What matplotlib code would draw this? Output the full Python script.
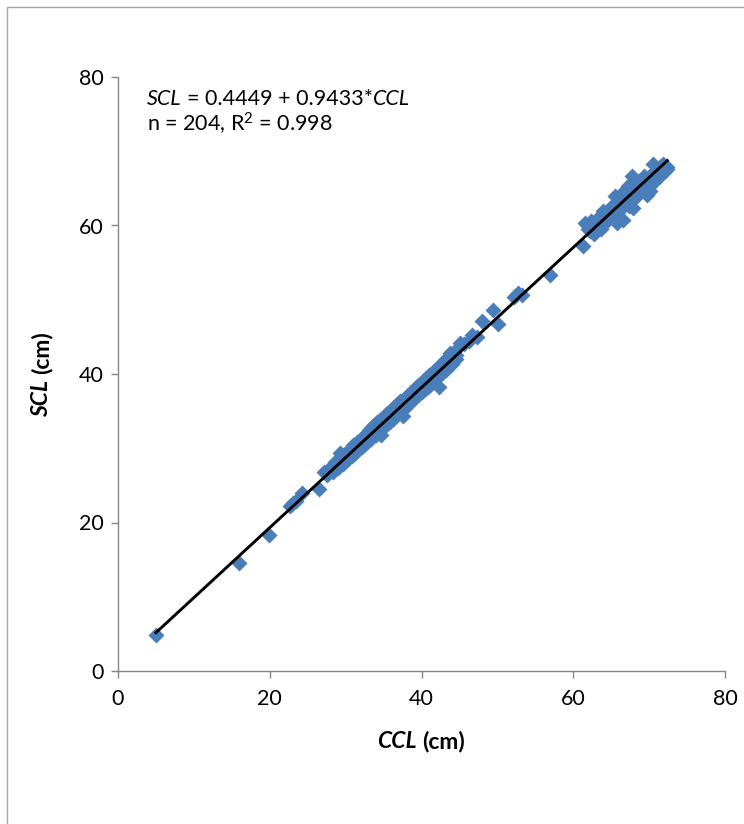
import matplotlib
matplotlib.use('Agg')
import matplotlib.pyplot as plt
from matplotlib.patches import Rectangle
from matplotlib.transforms import IdentityTransform
import numpy as np

plt.rcParams['font.family'] = ['Lato', 'DejaVu Sans']
plt.rcParams['mathtext.fontset'] = 'custom'
plt.rcParams['mathtext.rm'] = 'Lato'
plt.rcParams['mathtext.it'] = 'Lato:italic'

# curved carapace length vs straight carapace length (cm)
ccl = [5.0, 16.0, 19.9, 22.7, 23.1, 23.5, 24.3, 26.5, 27.2, 27.6,
       27.5, 27.9, 28.3, 28.6, 29.0, 29.3, 29.6, 29.9, 30.2, 30.5,
       30.8, 31.0, 31.3, 31.5, 31.8, 32.0, 32.2, 32.4, 32.6, 32.8,
       33.0, 33.1, 33.3, 33.5, 33.6, 33.8, 34.0, 34.1, 34.3, 34.5,
       34.6, 34.8, 35.0, 35.1, 35.3, 35.5, 35.6, 35.8, 36.0, 36.2,
       36.4, 36.6, 36.8, 37.0, 37.2, 37.4, 37.6, 37.8, 38.0, 38.2,
       38.4, 38.6, 38.8, 39.0, 39.2, 39.4, 39.6, 39.8, 40.0, 40.2,
       40.4, 40.6, 40.8, 41.0, 41.2, 41.4, 41.6, 41.8, 42.0, 42.3,
       42.5, 42.7, 43.0, 43.2, 43.5, 43.8, 44.0, 44.3, 44.6,
       30.4, 31.1, 31.9, 32.5, 32.9, 33.4, 33.9, 34.4, 34.9, 35.4,
       35.9, 36.3, 36.7, 37.1, 37.5, 37.9, 38.3, 38.7, 39.1, 39.5,
       39.9, 40.3, 40.7, 41.1, 41.5, 42.1, 42.9, 43.4,
       45.1, 45.6, 46.2, 46.7, 47.3, 48.0, 49.4, 50.1, 52.2, 52.7,
       53.2, 56.9, 44.5,
       61.3, 61.6, 62.0, 62.4, 62.8, 63.0, 63.3, 63.6, 63.9, 64.2,
       64.5, 64.8, 65.1, 65.3, 65.5, 65.8, 66.0, 66.2, 66.5, 66.6,
       66.9, 67.2, 67.4, 67.7, 67.9, 68.1, 68.3, 68.6, 68.8, 69.1,
       69.3, 69.7, 70.0, 70.1, 70.4, 70.5, 70.8, 71.1, 71.4, 71.8,
       72.1, 72.3,
       62.2, 62.7, 63.4, 63.8, 64.3, 64.7, 65.2, 65.7, 66.1, 66.4,
       66.8, 67.3, 67.6, 68.0, 68.4, 68.9, 69.4, 69.9, 70.3, 70.7,
       71.2, 71.6, 72.0, 72.4]

scl = [4.8, 14.5, 18.3, 22.2, 22.6, 22.9, 24.0, 24.5, 26.8, 27.0,
       26.4, 27.4, 26.8, 28.1, 27.3, 29.4, 27.9, 29.2, 28.4, 29.8,
       29.0, 30.4, 29.3, 30.8, 29.9, 31.3, 30.2, 31.7, 30.6, 32.1,
       31.0, 32.5, 31.3, 32.9, 31.8, 33.1, 31.8, 33.5, 32.1, 33.8,
       31.8, 32.7, 34.2, 32.9, 34.6, 33.3, 34.8, 33.5, 35.1, 34.0,
       35.6, 34.3, 35.9, 34.7, 36.3, 35.1, 34.3, 36.8, 35.6, 37.2,
       36.0, 37.6, 36.5, 37.9, 36.8, 38.4, 37.2, 38.7, 37.6, 39.1,
       38.0, 39.5, 38.3, 39.8, 38.7, 40.2, 39.1, 40.6, 39.5, 38.2,
       41.2, 40.1, 41.7, 40.6, 42.3, 42.8, 41.3, 43.0, 42.0,
       28.9, 29.8, 30.9, 31.2, 31.9, 32.0, 32.6, 33.1, 33.4, 33.9,
       34.4, 34.6, 35.1, 35.5, 35.9, 36.3, 36.5, 37.0, 37.4, 37.9,
       38.2, 38.5, 38.9, 39.3, 39.7, 40.2, 41.0, 41.4,
       44.2, 44.0, 44.5, 45.3, 45.0, 47.2, 48.6, 46.7, 50.4, 50.9,
       50.6, 53.3, 42.6,
       57.3, 60.3, 59.5, 60.6, 58.8, 60.0, 61.0, 59.5, 62.0, 61.4,
       60.6, 62.0, 62.6, 61.2, 64.0, 60.4, 63.0, 62.1, 64.5, 60.8,
       63.4, 65.3, 62.6, 66.6, 62.3, 65.0, 63.9, 66.0, 64.8, 65.4,
       66.7, 64.1, 66.3, 64.7, 67.0, 68.3, 66.0, 67.2, 66.6, 68.3,
       67.4, 67.6,
       59.2, 60.0, 60.4, 60.9, 61.2, 61.6, 61.9, 62.6, 62.9, 63.2,
       63.5, 63.9, 64.2, 64.6, 65.1, 65.5, 65.9, 66.4, 66.8, 67.1,
       67.6, 68.0, 68.1, 67.9]

intercept = 0.4449
slope = 0.9433
ticks = [0, 20, 40, 60, 80]

W, H = 744, 824
fig = plt.figure(figsize=(W / 100, H / 100), dpi=100)
fig.patches.append(Rectangle((7 / W, -0.1), 1.2, 1.1 - 7 / H, transform=fig.transFigure,
                             fill=False, edgecolor='#a6a6a6', lw=1.0))

ax = fig.add_axes([118 / W, 1 - 671 / H, (725 - 118) / W, (671 - 77) / H])
ax.plot(ccl, scl, linestyle='none', marker='D', ms=8.2, color='#4A7EBB', mec='none', zorder=2)
xs = np.array([min(ccl), max(ccl)])
ax.plot(xs, intercept + slope * xs, color='black', lw=2.1, zorder=3)

ax.set_xlim(0, 80)
ax.set_ylim(0, 80)
ax.set_xticks(ticks)
ax.set_yticks(ticks)
for s in ['top', 'right']:
    ax.spines[s].set_visible(False)
for s in ['left', 'bottom']:
    ax.spines[s].set_color('#868686')
    ax.spines[s].set_linewidth(1.0)
    ax.spines[s].set_zorder(1)
ax.tick_params(direction='out', length=5, width=1.0, color='#868686', labelsize=15.5, pad=5)
ax.tick_params(axis='x', pad=8)


def put_parts(x, y, parts, size, center=False, vertical=False):
    """Place differently styled pieces of text one after the other (pixel coords)."""
    r = fig.canvas.get_renderer()
    gap_px = 0.24 * size * fig.dpi / 72
    texts = []
    for s, style, weight, gap in parts:
        t = fig.text(0, 0, s, fontsize=size, style=style, weight=weight,
                     rotation=90 if vertical else 0, rotation_mode='anchor',
                     ha='left', va='baseline', transform=IdentityTransform())
        texts.append((t, gap))
    lens = []
    for t, gap in texts:
        bb = t.get_window_extent(r)
        lens.append(bb.height if vertical else bb.width)
    total = sum(lens) + sum(g * gap_px for _, g in texts)
    pos = (y if vertical else x) - (total / 2 if center else 0)
    for (t, gap), L in zip(texts, lens):
        pos += gap * gap_px
        t.set_position((x, pos) if vertical else (pos, y))
        pos += L


fig.canvas.draw()
put_parts(147, H - 105, [('SCL', 'italic', 'normal', 0),
                         ('= 0.4449 + 0.9433*', 'normal', 'normal', 1),
                         ('CCL', 'italic', 'normal', 0)], 15.5)
put_parts(147, H - 132, [('n = 204, R$^2$ = 0.998', 'normal', 'normal', 0)], 15.5)
put_parts(421, H - 748, [('CCL', 'italic', 'bold', 0), ('(cm)', 'normal', 'bold', 1)], 16.5, center=True)
put_parts(48, H - 374, [('SCL', 'italic', 'bold', 0), ('(cm)', 'normal', 'bold', 1)], 16.5,
          center=True, vertical=True)

fig.savefig('out.png', dpi=100)
